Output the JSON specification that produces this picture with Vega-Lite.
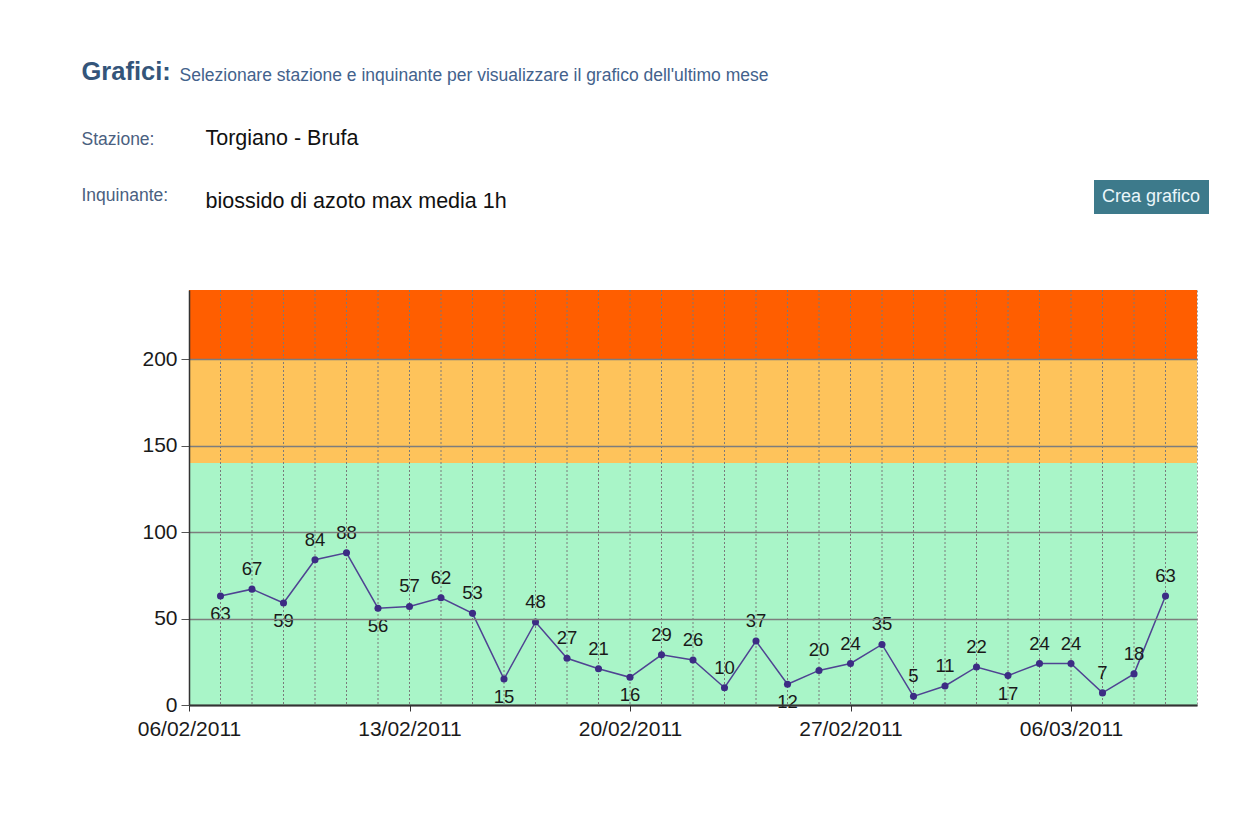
{
  "$schema": "https://vega.github.io/schema/vega-lite/v6.json",
  "autosize": "none",
  "padding": {"left": 189, "top": 290, "right": 54, "bottom": 111},
  "width": 1008,
  "height": 415,
  "background": "white",
  "config": {
    "font": "Liberation Sans",
    "view": {"stroke": "#9a9a9a", "strokeDash": [2, 2], "strokeWidth": 1}
  },
  "datasets": {
    "misure": [
      {"data": "2011-02-07", "valore": 63},
      {"data": "2011-02-08", "valore": 67},
      {"data": "2011-02-09", "valore": 59},
      {"data": "2011-02-10", "valore": 84},
      {"data": "2011-02-11", "valore": 88},
      {"data": "2011-02-12", "valore": 56},
      {"data": "2011-02-13", "valore": 57},
      {"data": "2011-02-14", "valore": 62},
      {"data": "2011-02-15", "valore": 53},
      {"data": "2011-02-16", "valore": 15},
      {"data": "2011-02-17", "valore": 48},
      {"data": "2011-02-18", "valore": 27},
      {"data": "2011-02-19", "valore": 21},
      {"data": "2011-02-20", "valore": 16},
      {"data": "2011-02-21", "valore": 29},
      {"data": "2011-02-22", "valore": 26},
      {"data": "2011-02-23", "valore": 10},
      {"data": "2011-02-24", "valore": 37},
      {"data": "2011-02-25", "valore": 12},
      {"data": "2011-02-26", "valore": 20},
      {"data": "2011-02-27", "valore": 24},
      {"data": "2011-02-28", "valore": 35},
      {"data": "2011-03-01", "valore": 5},
      {"data": "2011-03-02", "valore": 11},
      {"data": "2011-03-03", "valore": 22},
      {"data": "2011-03-04", "valore": 17},
      {"data": "2011-03-05", "valore": 24},
      {"data": "2011-03-06", "valore": 24},
      {"data": "2011-03-07", "valore": 7},
      {"data": "2011-03-08", "valore": 18},
      {"data": "2011-03-09", "valore": 63}
    ],
    "fasce": [
      {"livello": "buono", "da": 0, "a": 140},
      {"livello": "moderato", "da": 140, "a": 200},
      {"livello": "elevato", "da": 200, "a": 240}
    ]
  },
  "resolve": {"axis": {"x": "independent", "y": "independent"}},
  "layer": [
    {
      "data": {"name": "fasce"},
      "mark": {"type": "rect"},
      "encoding": {
        "y": {"field": "da", "type": "quantitative", "scale": {"domain": [0, 240], "nice": false}, "axis": null},
        "y2": {"field": "a"},
        "color": {
          "field": "livello",
          "type": "nominal",
          "scale": {"domain": ["buono", "moderato", "elevato"], "range": ["#a9f5c8", "#fec35b", "#ff5e00"]},
          "legend": {
            "title": "Crea grafico",
            "orient": "none",
            "legendX": 905,
            "legendY": -110,
            "values": [],
            "fillColor": "#3d7a8b",
            "padding": 8,
            "titleFontSize": 18,
            "titleFont": "Liberation Sans",
            "titleFontWeight": "normal",
            "titleColor": "#eaf6fa",
            "titlePadding": 0
          }
        }
      }
    },
    {
      "data": {"name": "misure"},
      "mark": {"type": "rule", "strokeDash": [2, 2], "color": "#7a7a7a", "strokeWidth": 1},
      "encoding": {
        "x": {"field": "data", "type": "temporal", "scale": {"type": "utc", "domain": [{"year": 2011, "month": 2, "date": 6, "utc": true}, {"year": 2011, "month": 3, "date": 10, "utc": true}]}, "axis": null}
      }
    },
    {
      "data": {"name": "misure"},
      "mark": {"type": "line", "color": "#4f4392", "strokeWidth": 1.5},
      "encoding": {
        "x": {
          "field": "data",
          "type": "temporal",
          "scale": {"type": "utc", "domain": [{"year": 2011, "month": 2, "date": 6, "utc": true}, {"year": 2011, "month": 3, "date": 10, "utc": true}]},
          "axis": {
            "values": [
              {"year": 2011, "month": 2, "date": 6, "utc": true},
              {"year": 2011, "month": 2, "date": 13, "utc": true},
              {"year": 2011, "month": 2, "date": 20, "utc": true},
              {"year": 2011, "month": 2, "date": 27, "utc": true},
              {"year": 2011, "month": 3, "date": 6, "utc": true}
            ],
            "format": "%d/%m/%Y",
            "grid": false,
            "labelFontSize": 21,
            "labelColor": "#1a1a1a",
            "labelPadding": 7,
            "labelFlush": false,
            "labelOverlap": false,
            "tickSize": 6,
            "tickColor": "#333333",
            "domainColor": "#333333",
            "domainWidth": 2,
            "zindex": 1,
            "title": ["Torgiano - Brufa", "biossido di azoto max media 1h"],
            "titleX": 16,
            "titleY": -561,
            "titleAlign": "left",
            "titleBaseline": "alphabetic",
            "titleLineHeight": 63,
            "titleFontSize": 21.5,
            "titleFontWeight": "normal",
            "titleColor": "#111111"
          }
        },
        "y": {
          "field": "valore",
          "type": "quantitative",
          "scale": {"domain": [0, 240], "nice": false},
          "axis": {
            "values": [0, 50, 100, 150, 200],
            "grid": true,
            "gridColor": "#7d7d7d",
            "gridWidth": 1.5,
            "labelFontSize": 21,
            "labelColor": "#1a1a1a",
            "labelPadding": 4,
            "tickSize": 8,
            "tickColor": "#555555",
            "domainColor": "#333333",
            "domainWidth": 1.5,
            "zindex": 1,
            "title": ["Stazione:", "Inquinante:"],
            "titleAngle": 0,
            "titleX": -108,
            "titleY": -146,
            "titleAlign": "left",
            "titleBaseline": "alphabetic",
            "titleLineHeight": 56,
            "titleFontSize": 17.5,
            "titleFontWeight": "normal",
            "titleColor": "#4a6080"
          }
        }
      }
    },
    {
      "data": {"name": "misure"},
      "mark": {"type": "point", "filled": true, "size": 50, "color": "#3c2c84", "opacity": 1},
      "encoding": {
        "x": {"field": "data", "type": "temporal", "axis": null},
        "y": {"field": "valore", "type": "quantitative", "axis": null}
      }
    },
    {
      "data": {"name": "misure"},
      "transform": [
        {"window": [{"op": "lag", "field": "valore", "as": "prec"}, {"op": "lead", "field": "valore", "as": "succ"}], "sort": [{"field": "data"}]},
        {"filter": "!((datum.prec == null || datum.valore < datum.prec) && (datum.succ == null || datum.valore <= datum.succ) && datum.valore >= 12)"}
      ],
      "mark": {"type": "text", "baseline": "middle", "dy": -20, "fontSize": 18.5, "color": "#1a1a1a"},
      "encoding": {
        "x": {
          "field": "data",
          "type": "temporal",
          "axis": {
            "orient": "top",
            "labels": false,
            "ticks": false,
            "domain": false,
            "grid": false,
            "title": "Grafici:",
            "titleX": -108,
            "titleY": -211,
            "titleAlign": "left",
            "titleBaseline": "alphabetic",
            "titleFontSize": 25.5,
            "titleFontWeight": "bold",
            "titleColor": "#34557a"
          }
        },
        "y": {
          "field": "valore",
          "type": "quantitative",
          "axis": {
            "orient": "right",
            "labels": false,
            "ticks": false,
            "domain": false,
            "grid": false,
            "title": "Selezionare stazione e inquinante per visualizzare il grafico dell'ultimo mese",
            "titleAngle": 0,
            "titleX": -1018,
            "titleY": -210,
            "titleAlign": "left",
            "titleBaseline": "alphabetic",
            "titleFontSize": 17.5,
            "titleFontWeight": "normal",
            "titleColor": "#43628c"
          }
        },
        "text": {"field": "valore", "type": "quantitative"}
      }
    },
    {
      "data": {"name": "misure"},
      "transform": [
        {"window": [{"op": "lag", "field": "valore", "as": "prec"}, {"op": "lead", "field": "valore", "as": "succ"}], "sort": [{"field": "data"}]},
        {"filter": "(datum.prec == null || datum.valore < datum.prec) && (datum.succ == null || datum.valore <= datum.succ) && datum.valore >= 12"}
      ],
      "mark": {"type": "text", "baseline": "middle", "dy": 18, "fontSize": 18.5, "color": "#1a1a1a"},
      "encoding": {
        "x": {"field": "data", "type": "temporal", "axis": null},
        "y": {"field": "valore", "type": "quantitative", "axis": null},
        "text": {"field": "valore", "type": "quantitative"}
      }
    }
  ]
}
